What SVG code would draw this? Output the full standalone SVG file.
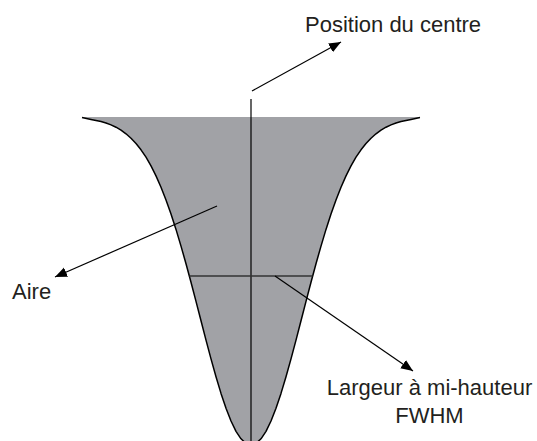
<svg xmlns="http://www.w3.org/2000/svg" width="537" height="441" viewBox="0 0 537 441">
<style>
.lbl{font-family:"Liberation Sans",Arial,sans-serif;font-size:22px;fill:#231f20}
.conn{stroke:#000;stroke-width:1.2;fill:none}
.curve{stroke:#000;stroke-width:1.5;fill:none;stroke-linejoin:round}
.shape{fill:#a1a2a6;stroke:none}
</style>
<defs>
<marker id="ah" markerUnits="userSpaceOnUse" markerWidth="13" markerHeight="11" refX="12" refY="5" orient="auto">
<path d="M0,0 L12,5 L0,10 z" fill="#000"/>
</marker>
</defs>
<rect width="537" height="441" fill="#fff"/>
<g id="peak">
<path class="shape" d="M82,117 L420,117 L420,117.5 411,119.5 401,121.5 396,123 391,124.9 386,127.2 381,130.1 376,133.8 371,138.2 366,143.5 361,149.8 356,157.2 351,165.9 346,175.9 341,187.2 336,199.9 331,214 326,229.4 321,246.1 316,263.7 311,282.3 306,301.4 301,320.8 296,340.1 291,358.9 286,376.8 281,393.4 276,408.2 271,421 266,431.3 261,438.8 256,443.4 251,445 246,443.4 241,438.8 236,431.3 231,421 226,408.2 221,393.4 216,376.8 211,358.9 206,340.1 201,320.8 196,301.4 191,282.3 186,263.7 181,246.1 176,229.4 171,214 166,199.9 161,187.2 156,175.9 151,165.9 146,157.2 141,149.8 136,143.5 131,138.2 126,133.8 121,130.1 116,127.2 111,124.9 106,123 101,121.5 91,119.5 82,117.5 Z"/>
<path class="curve" d="M420,117.5 L411,119.5 401,121.5 396,123 391,124.9 386,127.2 381,130.1 376,133.8 371,138.2 366,143.5 361,149.8 356,157.2 351,165.9 346,175.9 341,187.2 336,199.9 331,214 326,229.4 321,246.1 316,263.7 311,282.3 306,301.4 301,320.8 296,340.1 291,358.9 286,376.8 281,393.4 276,408.2 271,421 266,431.3 261,438.8 256,443.4 251,445 246,443.4 241,438.8 236,431.3 231,421 226,408.2 221,393.4 216,376.8 211,358.9 206,340.1 201,320.8 196,301.4 191,282.3 186,263.7 181,246.1 176,229.4 171,214 166,199.9 161,187.2 156,175.9 151,165.9 146,157.2 141,149.8 136,143.5 131,138.2 126,133.8 121,130.1 116,127.2 111,124.9 106,123 101,121.5 91,119.5 82,117.5"/>
<line x1="251" y1="99" x2="251" y2="441" stroke="#000" stroke-width="1.2"/>
<line x1="189.5" y1="276" x2="312.5" y2="276" stroke="#333" stroke-width="1.3"/>
</g>
<g id="label-centre"><text class="lbl" x="305" y="32">Position du centre</text></g>
<g id="label-aire"><text class="lbl" x="12" y="299">Aire</text></g>
<g id="label-fwhm"><text class="lbl" x="429.5" y="395" text-anchor="middle">Largeur à mi-hauteur</text><text class="lbl" x="429.5" y="423" text-anchor="middle">FWHM</text></g>
<g id="connectors">
<line class="conn" x1="252" y1="91" x2="341" y2="42" marker-end="url(#ah)"/>
<line class="conn" x1="217" y1="206" x2="55" y2="277" marker-end="url(#ah)"/>
<line class="conn" x1="275" y1="276" x2="413" y2="371" marker-end="url(#ah)"/>
</g>
</svg>
